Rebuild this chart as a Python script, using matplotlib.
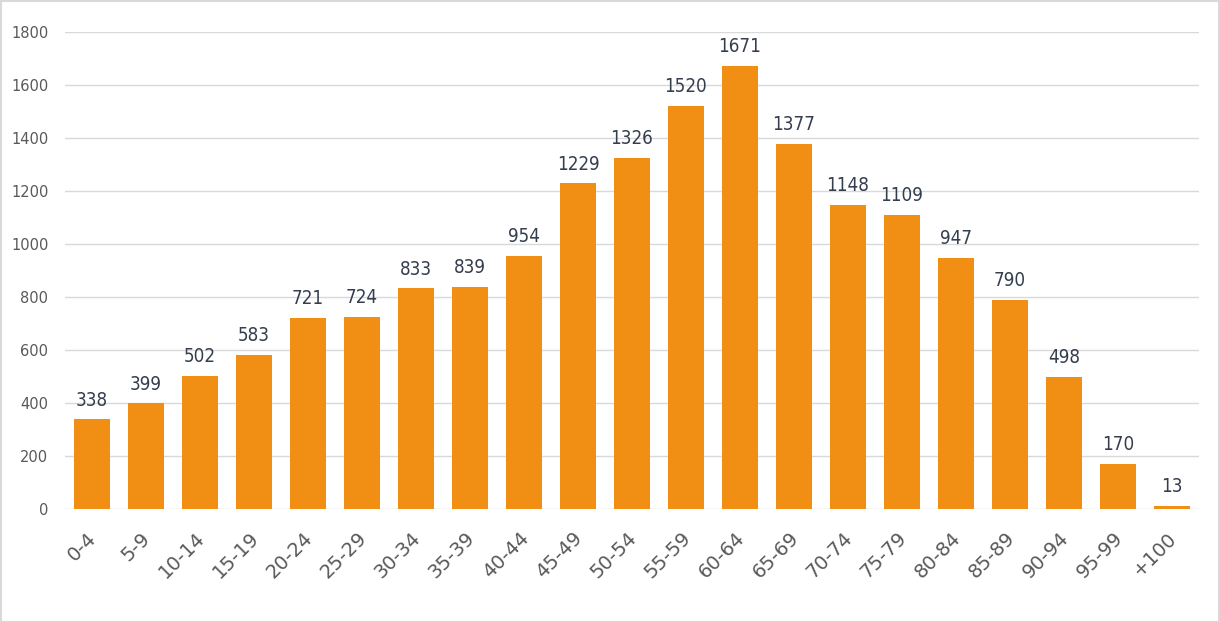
import matplotlib
matplotlib.use("Agg")
import matplotlib.pyplot as plt
from matplotlib.patches import Rectangle
from matplotlib.transforms import ScaledTranslation

categories = ["0-4", "5-9", "10-14", "15-19", "20-24", "25-29", "30-34", "35-39", "40-44",
              "45-49", "50-54", "55-59", "60-64", "65-69", "70-74", "75-79", "80-84",
              "85-89", "90-94", "95-99", "+100"]
values = [338, 399, 502, 583, 721, 724, 833, 839, 954, 1229, 1326, 1520, 1671, 1377,
          1148, 1109, 947, 790, 498, 170, 13]
yticks = [0, 200, 400, 600, 800, 1000, 1200, 1400, 1600, 1800]

W, H = 1220, 622
fig = plt.figure(figsize=(W / 100, H / 100), dpi=100)
fig.patch.set_facecolor("white")
fig.add_artist(Rectangle((0.5 / W, 0.5 / H), 1 - 1.5 / W, 1 - 1.5 / H, transform=fig.transFigure,
                         fill=False, edgecolor="#D9D9D9", linewidth=1.5))

left, right = 65 / W, 1199 / W
bottom, top = 1 - 509 / H, 1 - 32 / H
ax = fig.add_axes([left, bottom, right - left, top - bottom])
x = list(range(len(categories)))
ax.bar(x, values, width=0.667, color="#F08F13", zorder=3)
ax.set_xlim(-0.5, len(categories) - 0.5)
ax.set_ylim(0, 1800)
ax.set_yticks(yticks)
ax.set_yticklabels([str(v) for v in yticks], fontsize=10.5, color="#595959", family="DejaVu Sans")
ax.grid(axis="y", color="#D9D9D9", linewidth=1, zorder=0)
ax.set_xticks(x)
ax.set_xticklabels(categories, rotation=45, ha="right", rotation_mode="anchor",
                   fontsize=14, color="#595959", family="DejaVu Sans")
for s in ax.spines.values():
    s.set_visible(False)
ax.tick_params(length=0)
ax.tick_params(axis="y", pad=12)
ax.tick_params(axis="x", pad=14)
shift = ScaledTranslation(-5 / 100, 0, fig.dpi_scale_trans)
for lbl in ax.get_xticklabels():
    lbl.set_transform(lbl.get_transform() + shift)

for xi, v in zip(x, values):
    ax.annotate(str(v), (xi, v), xytext=(0, 7), textcoords="offset points",
                ha="center", va="bottom", fontsize=13.5, color="#343E4E",
                family=["DejaVu Sans"], fontstretch="condensed", fontweight="normal")

fig.savefig("out.png", dpi=100, facecolor="white")
